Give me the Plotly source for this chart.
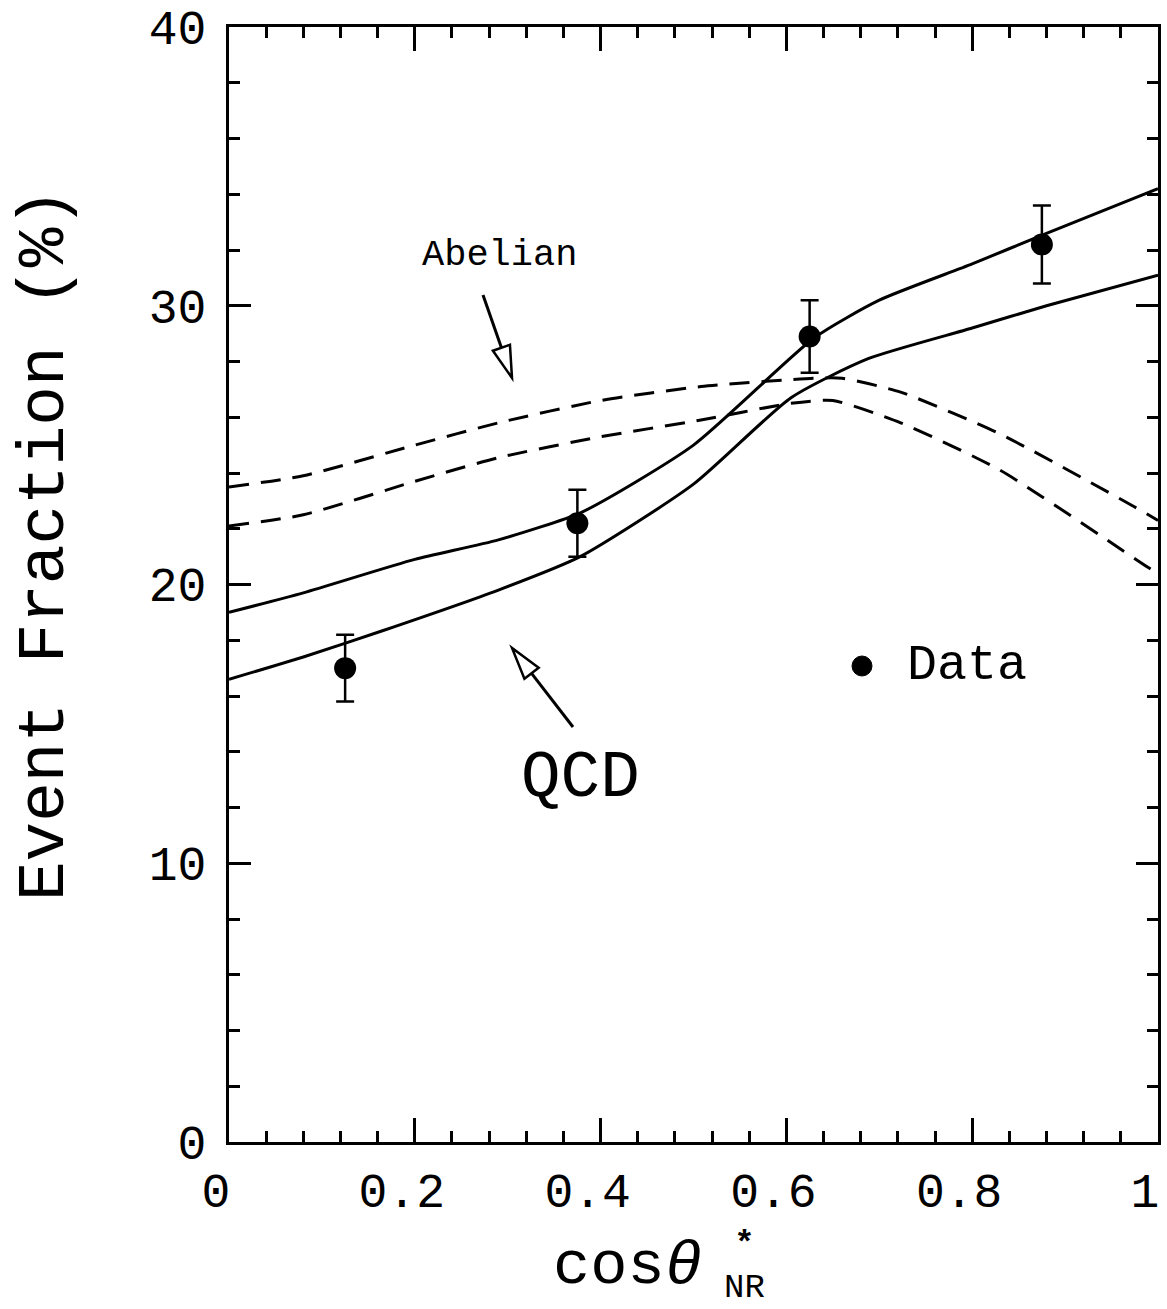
import plotly.graph_objects as go

# ---- data ----
data_x = [0.125, 0.375, 0.625, 0.875]
data_y = [17.0, 22.2, 28.9, 32.2]
data_err = [1.2, 1.2, 1.3, 1.4]

qcd_hi_x = [0.0, 0.08, 0.2, 0.29, 0.38, 0.5, 0.63, 0.7, 0.8, 0.88, 1.0]
qcd_hi_y = [19.0, 19.7, 20.9, 21.6, 22.6, 25.0, 28.85, 30.2, 31.5, 32.6, 34.2]
qcd_lo_x = [0.0, 0.08, 0.166, 0.29, 0.378, 0.5, 0.605, 0.688, 0.8, 0.88, 1.0]
qcd_lo_y = [16.6, 17.4, 18.35, 19.8, 21.0, 23.6, 26.7, 28.1, 29.2, 30.0, 31.1]
abel_hi_x = [0.0, 0.08, 0.2, 0.29, 0.4, 0.508, 0.63, 0.66, 0.723, 0.83, 0.974, 1.0]
abel_hi_y = [23.5, 23.9, 25.0, 25.8, 26.6, 27.1, 27.4, 27.4, 26.9, 25.4, 22.8, 22.3]
abel_lo_x = [0.0, 0.08, 0.2, 0.29, 0.4, 0.508, 0.605, 0.65, 0.723, 0.83, 0.99, 1.0]
abel_lo_y = [22.1, 22.5, 23.7, 24.55, 25.3, 25.9, 26.5, 26.6, 25.8, 24.1, 20.6, 20.4]

x_tickvals = [0, 0.2, 0.4, 0.6, 0.8, 1]
x_ticktext = ["0", "0.2", "0.4", "0.6", "0.8", "1"]
y_tickvals = [0, 10, 20, 30, 40]

W, H = 1167, 1309
ML, MR, MT, MB = 229, 9, 27, 167
PW, PH = W - ML - MR, H - MT - MB
XR, YR = (0, 1), (0, 40)

def to_px(x, y):
    return ML + (x - XR[0]) / (XR[1] - XR[0]) * PW, MT + (YR[1] - y) / (YR[1] - YR[0]) * PH

def to_data(px, py):
    return XR[0] + (px - ML) / PW * (XR[1] - XR[0]), YR[1] - (py - MT) / PH * (YR[1] - YR[0])

def to_paper(px, py):
    return (px - ML) / PW, (H - MB - py) / PH

FONT = "Liberation Mono, Courier New, monospace"

fig = go.Figure()
line = dict(color="black", width=3)
dline = dict(color="black", width=3, dash="20px,12px")
for xs, ys, ln in [(qcd_hi_x, qcd_hi_y, line), (qcd_lo_x, qcd_lo_y, line),
                   (abel_hi_x, abel_hi_y, dline), (abel_lo_x, abel_lo_y, dline)]:
    fig.add_trace(go.Scatter(x=xs, y=ys, mode="lines", line=dict(shape="spline", smoothing=0.6, **ln),
                             showlegend=False, hoverinfo="skip"))

fig.add_trace(go.Scatter(x=data_x, y=data_y, mode="markers",
                         marker=dict(color="black", size=22, symbol="circle"),
                         error_y=dict(type="data", array=data_err, color="black", thickness=2.5, width=9),
                         showlegend=False))

shapes = []
annotations = []

def arrow(tail, tip, head_len=32, head_w=9):
    tx, ty = to_px(*tail)
    hx, hy = to_px(*tip)
    dx, dy = hx - tx, hy - ty
    L = (dx * dx + dy * dy) ** 0.5
    ux, uy = dx / L, dy / L
    bx, by = hx - ux * head_len, hy - uy * head_len
    px_, py_ = -uy, ux
    x0, y0 = to_data(tx, ty)
    x1, y1 = to_data(bx, by)
    shapes.append(dict(type="line", xref="x", yref="y", x0=x0, y0=y0, x1=x1, y1=y1,
                       line=dict(color="black", width=3)))
    p1 = to_data(bx + px_ * head_w, by + py_ * head_w)
    p2 = to_data(bx - px_ * head_w, by - py_ * head_w)
    p3 = to_data(hx, hy)
    path = f"M {p1[0]},{p1[1]} L {p3[0]},{p3[1]} L {p2[0]},{p2[1]} Z"
    shapes.append(dict(type="path", xref="x", yref="y", path=path, fillcolor="white",
                       line=dict(color="black", width=2.5)))

arrow(to_data(483, 295), to_data(512, 378))
arrow(to_data(573, 727), to_data(512, 648))

ax_, ay_ = to_data(499, 255)
annotations.append(dict(x=ax_, y=ay_, xref="x", yref="y", text="Abelian", showarrow=False,
                        font=dict(family=FONT, size=37, color="black")))
qx, qy = to_data(580, 778)
annotations.append(dict(x=qx, y=qy, xref="x", yref="y", text="QCD", showarrow=False,
                        font=dict(family=FONT, size=66, color="black")))

# legend-like "Data" label
lx, ly = to_data(862, 666)
shapes.append(dict(type="circle", xref="x", yref="y", xsizemode="pixel", ysizemode="pixel",
                   xanchor=lx, yanchor=ly, x0=-10, x1=10, y0=-10, y1=10,
                   fillcolor="black", line=dict(color="black", width=1)))
dx_, dy_ = to_data(905, 665)
annotations.append(dict(x=dx_, y=dy_, xref="x", yref="y", text="Data", showarrow=False,
                        xanchor="left", font=dict(family=FONT, size=50, color="black")))

# y axis title
tx_, ty_ = to_paper(45, 545)
annotations.append(dict(x=tx_, y=ty_, xref="paper", yref="paper", text="Event Fraction (%)",
                        textangle=-90, showarrow=False, xanchor="center", yanchor="middle",
                        font=dict(family=FONT, size=66, color="black")))

# x axis title: cosθ*_NR
cx, cy = to_paper(704, 1266)
annotations.append(dict(x=cx, y=cy, xref="paper", yref="paper",
                        text="cos<i>θ</i>", showarrow=False, xanchor="right", yanchor="middle",
                        font=dict(family=FONT, size=62, color="black")))
sx, sy = to_paper(744, 1266)
annotations.append(dict(x=sx, y=sy, xref="paper", yref="paper",
                        text="<b>*</b><br>NR", showarrow=False, xanchor="center", yanchor="middle",
                        font=dict(family=FONT, size=34, color="black")))

fig.update_layout(
    width=W, height=H,
    margin=dict(l=ML, r=MR, t=MT, b=MB, autoexpand=False),
    plot_bgcolor="white", paper_bgcolor="white",
    shapes=shapes, annotations=annotations,
    showlegend=False,
    font=dict(family=FONT, color="black"),
)
fig.update_xaxes(range=list(XR), showgrid=False, zeroline=False,
                 showline=True, linecolor="black", linewidth=3, mirror="allticks",
                 ticks="inside", tickwidth=2.5, ticklen=24, tickcolor="black",
                 tickvals=x_tickvals, ticktext=x_ticktext,
                 tickfont=dict(family=FONT, size=48, color="black"), ticklabelstandoff=4,
                 ticklabelshift=-13,
                 minor=dict(ticks="inside", dtick=0.04, tick0=0, ticklen=11, tickwidth=2.5, tickcolor="black", showgrid=False))
fig.update_yaxes(range=list(YR), showgrid=False, zeroline=False,
                 showline=True, linecolor="black", linewidth=3, mirror="allticks",
                 ticks="inside", tickwidth=2.5, ticklen=22, tickcolor="black",
                 tickvals=y_tickvals,
                 tickfont=dict(family=FONT, size=48, color="black"), ticklabelstandoff=10,
                 minor=dict(ticks="inside", dtick=2, tick0=0, ticklen=11, tickwidth=2.5, tickcolor="black", showgrid=False))

fig.write_html("out.html", config={"displayModeBar": False},
               post_script="document.body.style.margin='0';document.body.style.overflow='hidden';")
